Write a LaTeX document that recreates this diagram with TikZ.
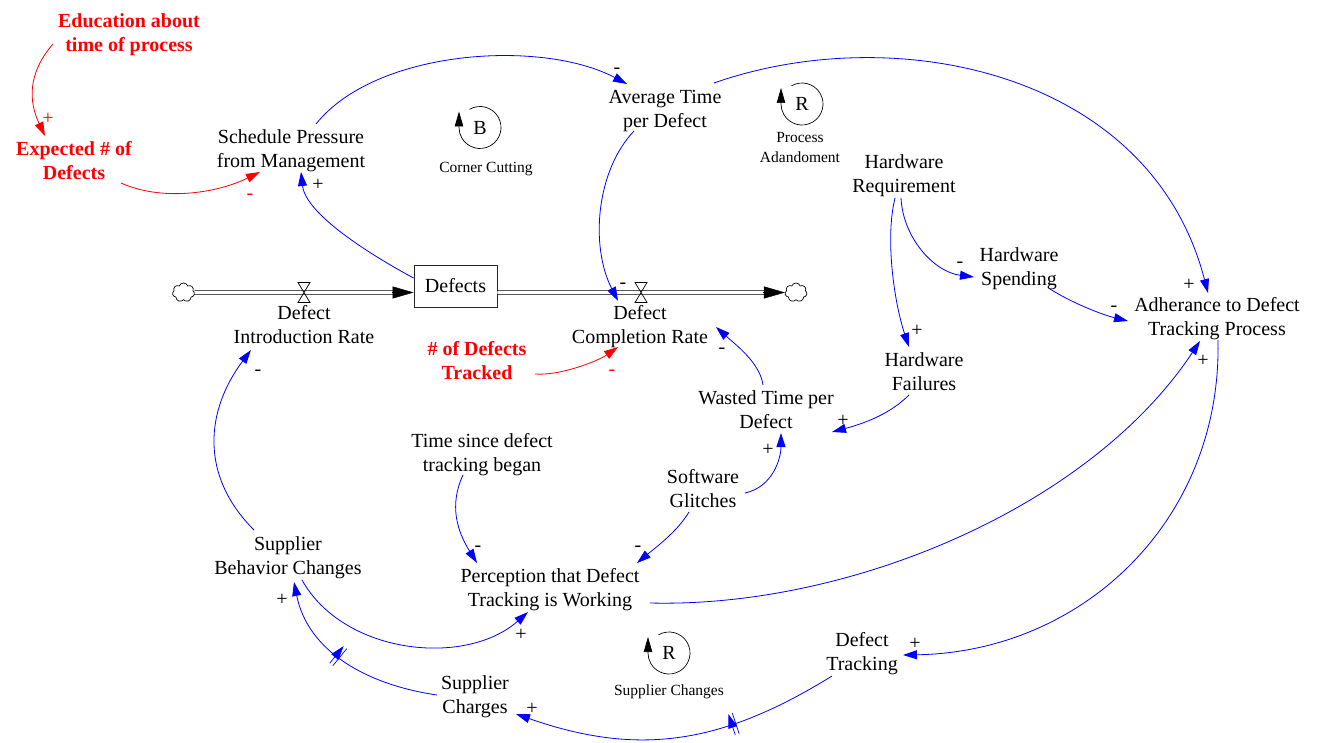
\documentclass[tikz,border=0pt]{standalone}
\usepackage{fontspec}
\setmainfont{Liberation Serif}
\usetikzlibrary{arrows.meta,shapes.symbols,decorations.markings}
\definecolor{linkblue}{RGB}{0,0,255}
\definecolor{linkred}{RGB}{255,0,0}
\newcommand{\topstrut}{\rule{0pt}{24pt}}
\newcommand{\botstrut}{\rule[-5pt]{0pt}{5pt}}
\newcommand{\smalltopstrut}{\rule{0pt}{15pt}}
\newcommand{\smallbotstrut}{\rule[-4pt]{0pt}{4pt}}
\tikzset{
  var/.style={align=center,inner sep=1pt,font=\fontsize{20}{24}\selectfont,
    execute at begin node=\topstrut,execute at end node=\botstrut},
  keyvar/.style={var,text=linkred,font=\fontsize{20}{24}\selectfont\bfseries},
  loopletter/.style={inner sep=0pt,font=\fontsize{20}{24}\selectfont},
  looplabel/.style={align=center,inner sep=0pt,font=\fontsize{15.5}{20}\selectfont,
    execute at begin node=\smalltopstrut,execute at end node=\smallbotstrut},
  sign/.style={inner sep=0pt,font=\fontsize{20}{24}\selectfont},
  redsign/.style={sign,text=linkred},
  link/.style={draw=linkblue,line width=0.8pt,-{Triangle[length=14pt,width=9pt]}},
  redlink/.style={link,draw=linkred},
  loopmark/.style={draw=black,line width=0.7pt,-{Triangle[length=15pt,width=8.5pt]}},
  pipe/.style={draw=black,line width=0.9pt,double=white,double distance=2.6pt},
  flowhead/.style={draw=black,line width=0.5pt,-{Triangle[length=21pt,width=12pt]}},
  stock/.style={draw=black!85,line width=0.8pt,minimum width=83pt,minimum height=42pt,inner sep=0pt,font=\fontsize{20}{24}\selectfont},
  source/.style={cloud,cloud puffs=7,cloud puff arc=140,aspect=1.15,draw=black,line width=0.7pt,minimum width=22pt,minimum height=19pt,inner sep=0pt},
  valve/.pic={\draw[line width=0.7pt] (-6,-10) -- (6,-10) -- (-6,10) -- (6,10) -- cycle;},
  delay/.style={postaction={decorate,decoration={markings,mark=at position #1 with {\draw[linkblue,line width=0.7pt] (-2,-11) -- (-2,11) (2,-11) -- (2,11);}}}}
}
\begin{document}
\begin{tikzpicture}[x=1pt,y=-1pt]
\useasboundingbox (0,0) rectangle (1319,743);

% variables
\node[keyvar] (edu) at (129,35) {Education about\\time of process};
\node[keyvar] (exp) at (74,163) {Expected \# of\\Defects};
\node[var] (sp) at (291,151) {Schedule Pressure\\from Management};
\node[var] (avg) at (665,111) {Average Time\\per Defect};
\node[var] (hr) at (904,176) {Hardware\\Requirement};
\node[var] (hs) at (1019,269) {Hardware\\Spending};
\node[var] (adh) at (1217,319) {Adherance to Defect\\Tracking Process};
\node[var] (hf) at (924,374) {Hardware\\Failures};
\node[var] (dir) at (304,326.5) {Defect\\Introduction Rate};
\node[var] (dcr) at (640,326.5) {Defect\\Completion Rate};
\node[keyvar] (ndt) at (477,363) {\# of Defects\\Tracked};
\node[var] (wt) at (766,412) {Wasted Time per\\Defect};
\node[var] (ts) at (482,455) {Time since defect\\tracking began};
\node[var] (sg) at (703,491) {Software\\Glitches};
\node[var] (sbc) at (288,558) {Supplier\\Behavior Changes};
\node[var] (perc) at (550,590) {Perception that Defect\\Tracking is Working};
\node[var] (dt) at (862,654) {Defect\\Tracking};
\node[var] (sch) at (475,697) {Supplier\\Charges};

% stock and flows
\node[stock] (box) at (455.5,286) {Defects};
\node[source] (cL) at (183.5,292.5) {};
\node[source] (cR) at (796,292.5) {};
\coordinate (vIn) at (304,292.5);
\coordinate (vOut) at (641,292.5);
\draw[pipe] (cL.east) -- ([shift={(-18,6.5)}]box.west);
\draw[flowhead] ([shift={(-22,6.5)}]box.west) -- ([shift={(0,6.5)}]box.west);
\draw[pipe] ([shift={(0,6.5)}]box.east) -- ([shift={(-18,0)}]cR.west);
\draw[flowhead] ([shift={(-22,0)}]cR.west) -- (cR.west);
\pic at (vIn) {valve};
\pic at (vOut) {valve};

% loop markers
\coordinate (loopB) at (480,127.5);
\coordinate (loopR1) at (802,104);
\coordinate (loopR2) at (669,653);
\draw[loopmark] ([shift={(-120:21)}]loopB) arc[start angle=-120,end angle=180,radius=21] -- ++(0,-16);
\draw[loopmark] ([shift={(-120:21)}]loopR1) arc[start angle=-120,end angle=180,radius=21] -- ++(0,-16);
\draw[loopmark] ([shift={(-120:21)}]loopR2) arc[start angle=-120,end angle=180,radius=21] -- ++(0,-16);
\node[loopletter] (lB) at (loopB) {B};
\node[loopletter] (lR1) at (loopR1) {R};
\node[loopletter] (lR2) at (loopR2) {R};
\node[looplabel] (nB) at (486,167) {Corner Cutting};
\node[looplabel] (nR1) at (800,149) {Process\\Adandoment};
\node[looplabel] (nR2) at (669,690) {Supplier Changes};

% causal links
\draw[redlink] ([shift={(-76,9)}]edu.center) .. controls +(-26,30) and +(-16,-34) .. ([shift={(-29,-27)}]exp.center);
\draw[redlink] ([shift={(47,20)}]exp.center) .. controls +(40,18) and +(-45,22) .. ([shift={(-31,21)}]sp.center);
\draw[link] ([shift={(0,-8)}]box.west) .. controls +(-30,-16) and +(5,45) .. ([shift={(10,21)}]sp.center);
\draw[link] ([shift={(25,-27)}]sp.center) .. controls +(60,-75) and +(-85,-45) .. ([shift={(-38,-27)}]avg.center);
\draw[link] ([shift={(-31,20)}]avg.center) .. controls +(-38,40) and +(-28,-55) .. ([shift={(-22,-25.5)}]dcr.center);
\draw[link] ([shift={(49,-28)}]avg.center) .. controls +(179,-63) and +(-58,-223) .. ([shift={(-9,-26)}]adh.center);
\draw[link] ([shift={(-3,22)}]hr.center) .. controls +(2,40) and +(-40,-5) .. ([shift={(-45,8)}]hs.center);
\draw[link] ([shift={(-9,22)}]hr.center) .. controls +(-10,40) and +(-15,-45) .. ([shift={(-15,-27)}]hf.center);
\draw[link] ([shift={(31,20)}]hs.center) .. controls +(22,14) and +(-25,-6) .. ([shift={(-89,2)}]adh.center);
\draw[link] ([shift={(100,13)}]perc.center) .. controls +(200,5) and +(-110,166) .. ([shift={(-17,22)}]adh.center);
\draw[link] ([shift={(1,21)}]adh.center) .. controls +(4,180) and +(180,-3) .. ([shift={(41,1)}]dt.center);
\draw[link] ([shift={(-15,21)}]hf.center) .. controls +(-20,20) and +(30,-8) .. ([shift={(66,20)}]wt.center);
\draw[link] ([shift={(-3,-27)}]wt.center) .. controls +(-3,-22) and +(20,18) .. ([shift={(76,0.5)}]dcr.center);
\draw[redlink] ([shift={(58,11)}]ndt.center) .. controls +(25,2) and +(-20,14) .. ([shift={(-22,20.5)}]dcr.center);
\draw[link] ([shift={(42,2)}]sg.center) .. controls +(28,-6) and +(0,25) .. ([shift={(15,21)}]wt.center);
\draw[link] ([shift={(-19,20)}]ts.center) .. controls +(-14,30) and +(-20,-32) .. ([shift={(-73,-27)}]perc.center);
\draw[link] ([shift={(-14,21)}]sg.center) .. controls +(-12,20) and +(18,-15) .. ([shift={(87,-27)}]perc.center);
\draw[link] ([shift={(-34,-28)}]sbc.center) .. controls +(-55,-55) and +(-45,60) .. ([shift={(-53,23.5)}]dir.center);
\draw[link] ([shift={(14,22)}]sbc.center) .. controls +(42,75) and +(-62,55) .. ([shift={(-22,22)}]perc.center);
\draw[link,delay=0.55] ([shift={(-38,-2)}]sch.center) .. controls +(-69,-10) and +(14,70) .. ([shift={(6,24)}]sbc.center);
\draw[link,delay=0.33] ([shift={(-30,22)}]dt.center) .. controls +(-110,68) and +(123,43) .. ([shift={(41,17)}]sch.center);

% link polarities
\node[redsign] (s1) at (48,119) {+};
\node[redsign] (s2) at (250,196.5) {-};
\node[sign] (s3) at (318,185) {+};
\node[sign] (s4) at (617,70.5) {-};
\node[sign] (s5) at (623,285.5) {-};
\node[sign] (s6) at (1189,285) {+};
\node[sign] (s7) at (960,264.5) {-};
\node[sign] (s8) at (917,331) {+};
\node[sign] (s9) at (1114,308.5) {-};
\node[sign] (s10) at (1203,361) {+};
\node[sign] (s11) at (915,644) {+};
\node[sign] (s12) at (843,421) {+};
\node[sign] (s13) at (722,350.5) {-};
\node[redsign] (s14) at (612,372.5) {-};
\node[sign] (s15) at (768,450) {+};
\node[sign] (s16) at (478,548.5) {-};
\node[sign] (s17) at (638,548.5) {-};
\node[sign] (s18) at (258,372.5) {-};
\node[sign] (s19) at (521,635) {+};
\node[sign] (s20) at (282,600) {+};
\node[sign] (s21) at (532,709) {+};
\end{tikzpicture}
\end{document}
